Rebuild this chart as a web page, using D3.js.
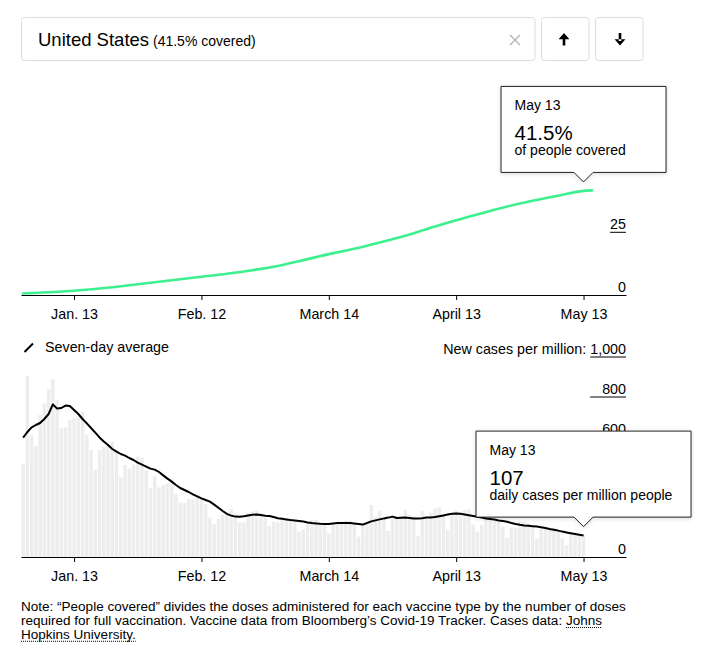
<!DOCTYPE html>
<html>
<head>
<meta charset="utf-8">
<script src="https://cdn.jsdelivr.net/npm/d3@7"></script>
<style>
  body { margin: 0; background: #fff; }
  svg text { font-family: "Liberation Sans", Arial, sans-serif; fill: #000; }
</style>
</head>
<body>
<svg id="chart" width="706" height="662"></svg>
<script>
// daily new cases per million, Jan. 1 to May 13
const casesStart = '2021-01-01'
const dailyCases = [
  463, 905, 610, 555, 710, 768, 838, 888, 785, 643,
  648, 685, 693, 702, 727, 610, 535, 435, 535, 552,
  560, 577, 535, 398, 460, 443, 463, 502, 498, 432,
  343, 405, 348, 360, 368, 390, 313, 272, 272, 288,
  288, 302, 290, 263, 197, 163, 190, 210, 210, 240,
  218, 172, 172, 222, 227, 232, 218, 198, 155, 177,
  172, 198, 193, 185, 177, 127, 138, 177, 185, 185,
  168, 165, 118, 168, 172, 177, 182, 182, 168, 102,
  160, 163, 260, 202, 232, 188, 130, 193, 202, 202,
  238, 210, 205, 105, 232, 202, 222, 243, 248, 213,
  138, 213, 232, 222, 235, 238, 163, 127, 160, 185,
  185, 180, 177, 152, 97, 147, 147, 177, 177, 168,
  160, 93, 143, 140, 135, 147, 127, 93, 60, 118,
  118, 110, 107
]
const sevenDayAvg = [
  597, 625, 648, 660, 670, 690, 715, 763, 742, 745,
  757, 755, 735, 715, 690, 668, 645, 622, 598, 578,
  560, 540, 527, 515, 507, 495, 485, 472, 462, 452,
  442, 437, 425, 408, 392, 377, 360, 345, 335, 325,
  313, 303, 293, 285, 277, 262, 246, 230, 216, 207,
  202, 201, 204, 208, 211, 213, 210, 206, 205, 200,
  194, 191, 188, 185, 183, 180, 177, 173, 170, 168,
  166, 165, 165, 168, 170, 170, 170, 170, 168, 165,
  162, 170, 178, 183, 188, 193, 197, 202, 195, 196,
  197, 195, 193, 192, 194, 197, 198, 200, 204, 208,
  212, 216, 218, 216, 213, 209, 205, 201, 197, 193,
  190, 187, 183, 180, 176, 170, 165, 161, 158, 156,
  154, 152, 149, 145, 140, 136, 132, 127, 123, 119,
  115, 111, 107
]

// share of people covered (%)
const coveredDates = [
  '2021-01-01', '2021-01-07', '2021-01-13', '2021-01-19', '2021-01-25', '2021-01-31',
  '2021-02-06', '2021-02-12', '2021-02-18', '2021-02-24', '2021-03-02', '2021-03-08',
  '2021-03-14', '2021-03-20', '2021-03-26', '2021-04-01', '2021-04-07', '2021-04-13',
  '2021-04-19', '2021-04-25', '2021-05-01', '2021-05-07', '2021-05-13', '2021-05-15'
]
const coveredPct = [
  0.6, 1.1, 1.7, 2.6, 3.7, 4.9,
  6.1, 7.3, 8.5, 9.9, 11.6, 13.9,
  16.3, 18.4, 20.9, 23.6, 26.8, 29.8,
  32.6, 35.3, 37.6, 39.6, 41.5, 41.7
]

const tickDates = ['2021-01-13', '2021-02-12', '2021-03-14', '2021-04-13', '2021-05-13']
const tickLabels = ['Jan. 13', 'Feb. 12', 'March 14', 'April 13', 'May 13']
// ticks not hidden behind the tooltips
const coveredTicks = [0, 25]
const casesTicks = [0, 600, 800, 1000]

const parse = d3.utcParse('%Y-%m-%d')
const svg = d3.select('#chart')

const defs = svg.append('defs')
defs.append('filter').attr('id', 'shadow').attr('x', '-20%').attr('y', '-20%')
    .attr('width', '140%').attr('height', '140%')
  .append('feDropShadow')
    .attr('dx', 0).attr('dy', 1).attr('stdDeviation', 2)
    .attr('flood-color', '#000').attr('flood-opacity', 0.15)

// ---- search box ----
const search = svg.append('g')
search.append('rect').attr('x', 21.5).attr('y', 17.5).attr('width', 513.5).attr('height', 43)
    .attr('rx', 3).attr('fill', '#fff').attr('stroke', '#dcdcdc')
search.append('text').attr('x', 38).attr('y', 45.5).style('font-size', '18.5px')
    .text('United States')
  .append('tspan').style('font-size', '14px').text(' (41.5% covered)')
search.append('path').attr('d', 'M510,35L520,45M520,35L510,45')
    .attr('stroke', '#b5b5b5').attr('stroke-width', 1.4)
search.append('rect').attr('x', 541.5).attr('y', 17.5).attr('width', 47.5).attr('height', 43)
    .attr('rx', 3).attr('fill', '#fff').attr('stroke', '#dcdcdc')
search.append('rect').attr('x', 595.5).attr('y', 17.5).attr('width', 47.5).attr('height', 43)
    .attr('rx', 3).attr('fill', '#fff').attr('stroke', '#dcdcdc')
search.append('path').attr('d', 'M558.6,39.2L564,33L569.4,39.2Z M562.7,37.5H565.3V45.5H562.7Z').attr('fill', '#000')
search.append('path').attr('d', 'M614.6,39.3L620,45.5L625.4,39.3Z M618.7,33H621.3V41H618.7Z').attr('fill', '#000')

// ---- scales ----
const x = d3.scaleUtc()
    .domain([new Date(Date.UTC(2020, 11, 31, 12)), new Date(Date.UTC(2021, 4, 23))])
    .range([21, 626])
const yTop = d3.scaleLinear().domain([0, 50]).range([295, 169.6])
const yBot = d3.scaleLinear().domain([0, 1000]).range([557, 357])

function xAxis(g, y0) {
  g.attr('transform', 'translate(0,' + y0 + ')')
    .call(d3.axisBottom(x)
      .tickValues(tickDates.map(parse))
      .tickFormat((d, i) => tickLabels[i])
      .tickSize(5).tickSizeOuter(0).tickPadding(8.6))
  g.select('.domain').attr('stroke', '#000')
  g.selectAll('.tick line').attr('stroke', '#000')
  g.selectAll('.tick text').attr('font-family', null).style('font-size', '14.3px').attr('fill', '#000')
}

function yTicks(g, scale, values, fmt) {
  const labels = g.selectAll('text.ylab').data(values).join('text')
      .attr('class', 'ylab')
      .attr('x', 626).attr('y', d => scale(d) - 3.5)
      .attr('text-anchor', 'end').style('font-size', '14.3px')
      .text(fmt)
  let w = 0
  labels.each(function () { w = Math.max(w, this.getComputedTextLength()) })
  g.selectAll('line.ytick').data(values.filter(d => d !== 0)).join('line')
      .attr('class', 'ytick')
      .attr('x1', 626 - w).attr('x2', 626)
      .attr('y1', d => scale(d)).attr('y2', d => scale(d))
      .attr('stroke', '#000')
  return w
}

// ---- top chart: people covered ----
const topChart = svg.append('g')
yTicks(topChart, yTop, coveredTicks, d => d)
topChart.append('g').call(xAxis, 295)
const covered = coveredDates.map((d, i) => ({ date: parse(d), value: coveredPct[i] }))
topChart.append('path').datum(covered)
    .attr('fill', 'none').attr('stroke', '#3cf08e').attr('stroke-width', 2.6)
    .attr('stroke-linejoin', 'round').attr('stroke-linecap', 'round')
    .attr('d', d3.line().x(d => x(d.date)).y(d => yTop(d.value)).curve(d3.curveMonotoneX))

// ---- bottom chart: cases ----
const botChart = svg.append('g')
const day0 = parse(casesStart)
const cases = dailyCases.map((v, i) => ({ date: d3.utcDay.offset(day0, i), value: v, avg: sevenDayAvg[i] }))
const step = x(d3.utcDay.offset(day0, 1)) - x(day0)

botChart.selectAll('rect.bar').data(cases).join('rect')
    .attr('class', 'bar')
    .attr('x', d => x(d.date) - step / 2 + 0.4)
    .attr('width', step - 0.8)
    .attr('y', d => yBot(d.value))
    .attr('height', d => yBot(0) - yBot(d.value))
    .attr('fill', '#ededed')

const w1000 = yTicks(botChart, yBot, casesTicks, d3.format(','))
botChart.append('text').attr('x', 626 - w1000 - 4).attr('y', yBot(1000) - 3.5)
    .attr('text-anchor', 'end').style('font-size', '14.3px')
    .text('New cases per million:')
botChart.append('g').call(xAxis, 557)

botChart.append('path').datum(cases)
    .attr('fill', 'none').attr('stroke', '#000').attr('stroke-width', 2)
    .attr('stroke-linejoin', 'round')
    .attr('d', d3.line().x(d => x(d.date)).y(d => yBot(d.avg)))

// legend
botChart.append('line').attr('x1', 24.5).attr('y1', 352).attr('x2', 33).attr('y2', 343.5)
    .attr('stroke', '#000').attr('stroke-width', 2)
botChart.append('text').attr('x', 45).attr('y', 352).style('font-size', '14.3px').text('Seven-day average')

// ---- tooltips ----
function tooltip(cx, py, width, dateText, valueText, label) {
  const apex = py - 9
  const bottom = apex - 9.5
  const topY = bottom - 86
  const left = cx - width / 2
  const right = cx + width / 2
  const g = svg.append('g')
  g.append('path')
      .attr('d', `M${left},${topY}H${right}V${bottom}H${cx + 9.5}L${cx},${apex}L${cx - 9.5},${bottom}H${left}Z`)
      .attr('fill', '#fff').attr('stroke', '#222').attr('stroke-width', 1)
      .attr('filter', 'url(#shadow)')
  g.append('text').attr('x', left + 13.5).attr('y', topY + 24).style('font-size', '14px').text(dateText)
  g.append('text').attr('x', left + 13.5).attr('y', topY + 54).style('font-size', '20.5px').text(valueText)
  g.append('text').attr('x', left + 13.5).attr('y', topY + 69).style('font-size', '14px').text(label)
}

const lastDate = parse(tickDates[tickDates.length - 1])
tooltip(x(lastDate), yTop(41.5), 165, 'May 13', '41.5%', 'of people covered')
const lastCase = cases[cases.length - 1]
tooltip(x(lastCase.date), yBot(lastCase.avg), 215, 'May 13', '107', 'daily cases per million people')

// ---- footnote ----
const note = svg.append('g').style('font-size', '13px')
const l1 = note.append('text').attr('x', 21).attr('y', 611)
    .text('Note: \u201cPeople covered\u201d divides the doses administered for each vaccine type by the number of doses')
// size the note so its first line spans the chart width
const noteSize = 13 * 605 / l1.node().getComputedTextLength()
note.style('font-size', noteSize + 'px')
const l2 = note.append('text').attr('x', 21).attr('y', 624.8)
    .text('required for full vaccination. Vaccine data from Bloomberg\u2019s Covid-19 Tracker. Cases data:')
const johnsX = 21 + l2.node().getComputedTextLength() + noteSize * 0.28
const johns = note.append('text').attr('x', johnsX).attr('y', 624.8).text('Johns')
const l3 = note.append('text').attr('x', 21).attr('y', 638.6).text('Hopkins University.')
function dotted(x1, x2, y) {
  note.append('line').attr('x1', x1).attr('x2', x2).attr('y1', y).attr('y2', y)
      .attr('stroke', '#000').attr('stroke-width', 1).attr('stroke-dasharray', '1,1')
}
dotted(johnsX, johnsX + johns.node().getComputedTextLength(), 627.5)
dotted(21, 21 + l3.node().getComputedTextLength(), 641.3)
</script>
</body>
</html>
